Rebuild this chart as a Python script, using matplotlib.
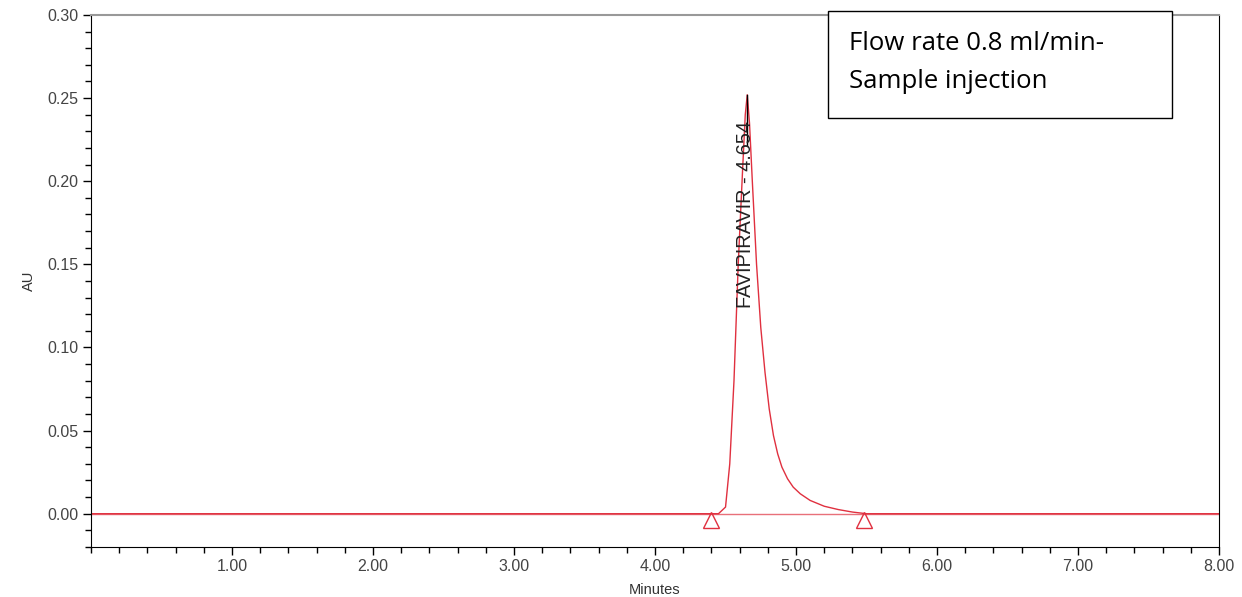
import numpy as np
import matplotlib
matplotlib.use("Agg")
from matplotlib import pyplot as plt
from matplotlib.patches import Rectangle
from matplotlib.ticker import MultipleLocator, FormatStrFormatter

plt.rcParams['font.family'] = ['Liberation Sans', 'DejaVu Sans']

# chromatogram trace (minutes, AU)
minutes = [0.0, 4.45, 4.50, 4.53, 4.56, 4.59, 4.62, 4.64, 4.654, 4.67, 4.69, 4.72,
           4.75, 4.78, 4.81, 4.84, 4.87, 4.90, 4.94, 4.98, 5.03, 5.10, 5.20, 5.30,
           5.40, 5.50, 8.0]
au = [0.0, 0.0, 0.004, 0.03, 0.08, 0.15, 0.205, 0.24, 0.252, 0.235, 0.20, 0.15,
      0.112, 0.085, 0.063, 0.047, 0.036, 0.028, 0.021, 0.016, 0.012, 0.008, 0.0045,
      0.0025, 0.001, 0.0, 0.0]

peak_name = 'FAVIPIRAVIR'
peak_rt = 4.654
peak_height = 0.252
marker_times = [4.40, 5.48]
marker_au = [-0.0035, -0.0035]
note_lines = ['Flow rate 0.8 ml/min-', 'Sample injection']

fig = plt.figure(figsize=(12.42, 5.97), dpi=100)
ax = fig.add_axes([0.0733, 0.0838, 0.9082, 0.8911])

ax.axhline(0, color='#e8707a', lw=1.0, zorder=1)
ax.plot(minutes, au, color='#e0303f', lw=1.0, zorder=2)
ax.plot([peak_rt, peak_rt], [peak_height, 0.222], color='black', lw=1.0, zorder=3)
ax.plot(marker_times, marker_au, linestyle='none', marker='^', markersize=11,
        markerfacecolor='none', markeredgecolor='#e0303f', markeredgewidth=1.0, zorder=3)

ax.text(4.645, 0.236, f'{peak_name} - {peak_rt:.3f}', rotation=90, ha='center', va='top',
        fontsize=14.3, color='#222222', zorder=5)

ax.set_xlim(0, 8)
ax.set_ylim(-0.02, 0.30)
ax.xaxis.set_major_locator(MultipleLocator(1))
ax.xaxis.set_minor_locator(MultipleLocator(0.2))
ax.yaxis.set_major_locator(MultipleLocator(0.05))
ax.yaxis.set_minor_locator(MultipleLocator(0.01))
ax.xaxis.set_major_formatter(FormatStrFormatter('%.2f'))
ax.yaxis.set_major_formatter(FormatStrFormatter('%.2f'))
ax.set_xticks([1, 2, 3, 4, 5, 6, 7, 8])

ax.tick_params(which='major', length=6, width=1, labelsize=11.5, labelcolor='#444444', pad=3)
ax.tick_params(which='minor', length=4, width=1)
ax.spines['top'].set_color('#999999')
ax.spines['top'].set_linewidth(1.5)
for s in ['left', 'bottom', 'right']:
    ax.spines[s].set_color('black')

ax.set_xlabel('Minutes', fontsize=10.5, color='#333333', labelpad=6)
ax.set_ylabel('AU', fontsize=10.5, color='#333333', labelpad=8)

# note box, placed in figure pixels
W, H = 1242, 597
fig.patches.append(Rectangle((828 / W, 1 - 118 / H), (1172 - 828) / W, (118 - 11) / H,
                             transform=fig.transFigure, facecolor='white',
                             edgecolor='black', lw=1, zorder=10))
for line, yp in zip(note_lines, [43, 82]):
    fig.text(849 / W, 1 - yp / H, line, fontsize=18.5, family='Open Sans',
             ha='left', va='center', color='black', zorder=11)

fig.savefig('out.png', dpi=100)
